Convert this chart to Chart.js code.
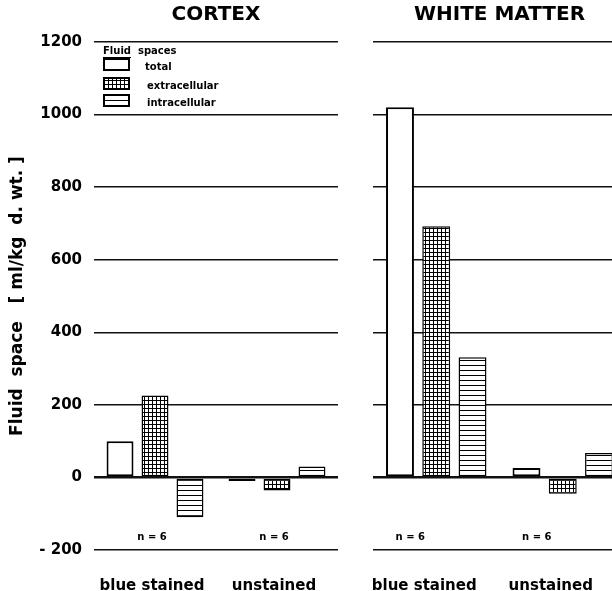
<!DOCTYPE html>
<html>
<head>
<meta charset="utf-8">
<script src="https://cdn.jsdelivr.net/npm/chart.js@4.4.0/dist/chart.umd.min.js"></script>
<style>
html, body { margin: 0; padding: 0; background: #fff; overflow: hidden; width: 612px; height: 591px; }
#cortexChart { position: absolute; left: 0; top: 0; }
#whiteChart { position: absolute; left: 345px; top: 0; }
</style>
</head>
<body>
<canvas id="cortexChart" width="345" height="591"></canvas>
<canvas id="whiteChart" width="295" height="591"></canvas>
<script>
// data (ml/kg d.wt.)
const groups = ['blue stained', 'unstained'];
const seriesNames = ['total', 'extracellular', 'intracellular'];
const cortexTotal = [100, -10];
const cortexExtra = [226, -36];
const cortexIntra = [-110, 30];
const whiteTotal = [1020, 26];
const whiteExtra = [692, -45];
const whiteIntra = [331, 67];
const nLabels = ['n = 6', 'n = 6'];
const yTicks = [-200, 0, 200, 400, 600, 800, 1000, 1200];

const FONT = '"DejaVu Sans", "Liberation Sans", sans-serif';

// hatch fills like the printed figure
function makePattern(kind) {
    const c = document.createElement('canvas');
    const s = kind === 'grid' ? 4 : 5;
    c.width = s; c.height = s;
    const g = c.getContext('2d');
    g.fillStyle = '#fff';
    g.fillRect(0, 0, s, s);
    g.fillStyle = '#000';
    g.fillRect(0, 0, s, 1);
    if (kind === 'grid') g.fillRect(0, 0, 1, s);
    return g.createPattern(c, 'repeat');
}
const fills = ['#fff', makePattern('grid'), makePattern('lines')];

function buildDatasets(values) {
    return values.map((v, i) => ({
        label: seriesNames[i],
        data: v,
        backgroundColor: fills[i],
        borderColor: '#000',
        borderWidth: i === 0 ? 2 : 1.5,
        borderSkipped: false,
        categoryPercentage: 0.86,
        barPercentage: 0.77
    }));
}

// "n = 6" under each group
const nPlugin = {
    id: 'nLabels',
    afterDatasetsDraw(chart, args, opts) {
        const { ctx, chartArea, scales } = chart;
        ctx.save();
        ctx.font = 'bold 10px ' + FONT;
        ctx.fillStyle = '#000';
        ctx.textAlign = 'center';
        ctx.textBaseline = 'middle';
        nLabels.forEach((t, i) => {
            ctx.fillText(t, scales.x.getPixelForValue(i) + (opts.shift || 0), chartArea.bottom - 13);
        });
        ctx.restore();
    }
};

// boxed legend inside the cortex panel
const legendPlugin = {
    id: 'fluidLegend',
    afterDatasetsDraw(chart) {
        const { ctx, chartArea } = chart;
        const x0 = chartArea.left + 9;
        const y0 = chartArea.top;
        ctx.save();
        ctx.fillStyle = '#000';
        ctx.font = 'bold 10px ' + FONT;
        ctx.textBaseline = 'middle';
        ctx.fillText('Fluid  spaces', x0, y0 + 9);
        const fw = ctx.measureText('Fluid').width;
        ctx.fillRect(x0, y0 + 15, fw, 1);
        const rows = [16, 35, 52];
        chart.data.datasets.forEach((ds, i) => {
            ctx.fillStyle = ds.backgroundColor;
            ctx.fillRect(x0, y0 + rows[i], 27, 13);
            ctx.strokeStyle = '#000';
            ctx.lineWidth = 2;
            ctx.strokeRect(x0 + 1, y0 + rows[i] + 1, 25, 11);
            ctx.fillStyle = '#000';
            ctx.fillText(ds.label, x0 + (i === 0 ? 42 : 44), y0 + rows[i] + 9);
        });
        ctx.restore();
    }
};

function makeOptions(title, isLeft) {
    return {
        responsive: false,
        animation: false,
        layout: { padding: isLeft ? { left: 0, right: 7, top: 0, bottom: 0 } : { left: 28, right: 14, top: 0, bottom: 0 } },
        plugins: {
            legend: { display: false },
            tooltip: { enabled: false },
            title: {
                display: true,
                text: title,
                fullSize: false,
                color: '#000',
                font: { family: FONT, size: 20, weight: 'bold' },
                padding: { top: 3, bottom: 15 }
            },
            nLabels: { shift: isLeft ? -3 : -26 }
        },
        scales: {
            x: {
                grid: { display: false },
                border: { display: false },
                ticks: {
                    color: '#000',
                    padding: 19,
                    labelOffset: isLeft ? -3 : -12,
                    font: { family: FONT, size: 15, weight: 'bold' }
                },
                afterFit: s => { s.height = 41; }
            },
            y: {
                min: yTicks[0],
                max: yTicks[yTicks.length - 1],
                border: { display: false },
                grid: {
                    color: '#111',
                    drawTicks: false,
                    lineWidth: c => (c.tick && c.tick.value === 0 ? 2.6 : 1.4)
                },
                ticks: {
                    display: isLeft,
                    stepSize: yTicks[1] - yTicks[0],
                    padding: 12,
                    color: '#000',
                    font: { family: FONT, size: 15, weight: 'bold' },
                    callback: v => (v < 0 ? '- ' + Math.abs(v) : v)
                },
                title: {
                    display: isLeft,
                    text: 'Fluid  space   [ ml/kg  d. wt. ]',
                    color: '#000',
                    font: { family: FONT, size: 17, weight: 'bold' },
                    padding: { top: 7, bottom: 0 }
                },
                afterFit: s => { s.width = isLeft ? 94 : 0; }
            }
        }
    };
}

new Chart(document.getElementById('cortexChart'), {
    type: 'bar',
    data: { labels: groups, datasets: buildDatasets([cortexTotal, cortexExtra, cortexIntra]) },
    options: makeOptions('CORTEX', true),
    plugins: [nPlugin, legendPlugin]
});

new Chart(document.getElementById('whiteChart'), {
    type: 'bar',
    data: { labels: groups, datasets: buildDatasets([whiteTotal, whiteExtra, whiteIntra]) },
    options: makeOptions('WHITE MATTER', false),
    plugins: [nPlugin]
});
</script>
</body>
</html>
